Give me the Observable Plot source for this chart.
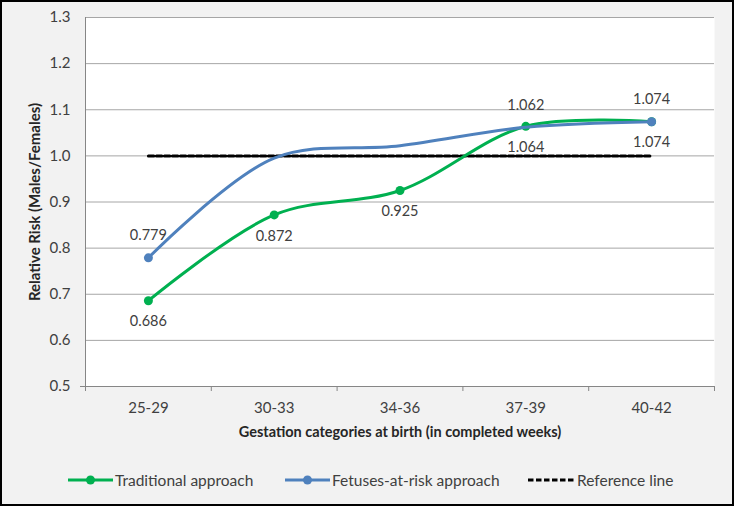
<!DOCTYPE html>
<html>
<head>
<meta charset="utf-8">
<script src="https://cdn.jsdelivr.net/npm/d3@7"></script>
<script src="https://cdn.jsdelivr.net/npm/@observablehq/plot@0.6"></script>
<style>
  html, body { margin: 0; padding: 0; background: #ffffff; }
  #wrap { position: relative; width: 735px; height: 509px; background: #ffffff; overflow: hidden;
          font-family: Lato, "Open Sans", sans-serif; }
  #bg { position: absolute; left: 0; top: 0; width: 734px; height: 506px; background: #f2f2f2; }
  #chart { position: absolute; left: 0; top: 0; }
  #border { position: absolute; left: 0; top: 0; width: 734px; height: 506px; box-sizing: border-box;
            border: 2.5px solid #000; pointer-events: none; }
  #legend { position: absolute; left: 0; top: 468px; width: 735px; height: 24px; font-size: 15.5px; color: #404040; }
  .item { position: absolute; top: 0; height: 24px; display: flex; align-items: center; }
  .item svg { display: block; margin-right: 2px; }
  #chart g[aria-label$="tick label"] { font-size: 15px; }
</style>
</head>
<body>
<div id="wrap">
  <div id="bg"></div>
  <div id="chart"></div>
  <div id="legend"></div>
  <div id="border"></div>
</div>
<script>
// ---- data ----
const categories = ["25-29", "30-33", "34-36", "37-39", "40-42"];
const traditional = [0.686, 0.872, 0.925, 1.064, 1.074];
const fetusesAtRisk = [0.779, 0.995, 1.022, 1.062, 1.074];
const referenceLine = [1, 1, 1, 1, 1];
const fetusMarkerShown = [true, false, false, false, true];
const fetusLabelShown = [true, false, false, true, true];
const yTicks = [0.5, 0.6, 0.7, 0.8, 0.9, 1.0, 1.1, 1.2, 1.3];
const seriesNames = ["Traditional approach", "Fetuses-at-risk approach", "Reference line"];
const xTitle = "Gestation categories at birth (in completed weeks)";
const yTitle = "Relative Risk (Males/Females)";

const green = "#00b050";
const blue = "#4f81bd";

const rows = (vals) => categories.map((c, i) => ({c, i, x: i + 0.5, v: vals[i]}));
const trad = rows(traditional);
const fetus = rows(fetusesAtRisk);
const ref = rows(referenceLine);

const chart = Plot.plot({
  width: 735,
  height: 450,
  marginLeft: 85,
  marginRight: 21,
  marginTop: 17,
  marginBottom: 64,
  style: {background: "transparent", fontFamily: "Lato, 'Open Sans', sans-serif", fontSize: "14.5px", color: "#404040"},
  x: {type: "linear", domain: [0, categories.length]},
  y: {type: "linear", domain: [0.5, 1.3]},
  marks: [
    Plot.frame({fill: "white", stroke: null}),
    Plot.gridY(yTicks, {stroke: "#a6a6a6", strokeOpacity: 1, strokeWidth: 1}),
    Plot.ruleX([0], {stroke: "#868686", strokeWidth: 1}),
    Plot.ruleY([0.5], {stroke: "#868686", strokeWidth: 1}),
    Plot.axisY({ticks: yTicks, tickSize: 0, tickPadding: 15, tickFormat: d3.format(".1f"),
                fontSize: 15, fill: "#404040", label: null}),
    Plot.axisY({ticks: [0.5], tickSize: 5, tickFormat: () => "", stroke: "#868686", label: null}),
    Plot.axisX({ticks: d3.range(categories.length + 1), tickSize: 5, tickFormat: () => "", stroke: "#868686", label: null}),
    Plot.axisX({ticks: categories.map((c, i) => i + 0.5), tickSize: 0, tickPadding: 16,
                tickFormat: d => categories[Math.floor(d)], fontSize: 15, fill: "#404040", label: null}),
    Plot.text([xTitle], {frameAnchor: "bottom", dy: 50, fontWeight: "bold", fontSize: 14.5, fill: "#262626"}),
    Plot.text([yTitle], {frameAnchor: "left", textAnchor: "middle", dx: -50, rotate: -90, fontWeight: "bold", fontSize: 15, fill: "#262626"}),
    Plot.line(ref, {x: "x", y: "v", stroke: "#000", strokeWidth: 3, strokeDasharray: "5.5,2.5"}),
    Plot.line(trad, {x: "x", y: "v", stroke: green, strokeWidth: 3, curve: "catmull-rom"}),
    Plot.dot(trad, {x: "x", y: "v", r: 4.5, fill: green}),
    Plot.line(fetus, {x: "x", y: "v", stroke: blue, strokeWidth: 3, curve: "catmull-rom"}),
    Plot.dot(fetus.filter(d => fetusMarkerShown[d.i]), {x: "x", y: "v", r: 4.5, fill: blue}),
    Plot.text(trad, {x: "x", y: "v", text: d => d3.format(".3f")(d.v), dy: 21, fontSize: 14.5, fill: "#404040"}),
    Plot.text(fetus.filter(d => fetusLabelShown[d.i]), {x: "x", y: "v", text: d => d3.format(".3f")(d.v), dy: -22, fontSize: 14.5, fill: "#404040"})
  ]
});
document.getElementById("chart").appendChild(chart);

// ---- legend ----
const legendSpecs = [
  {name: seriesNames[0], color: green, dash: null, marker: true, left: 68},
  {name: seriesNames[1], color: blue, dash: null, marker: true, left: 285},
  {name: seriesNames[2], color: "#000", dash: "5.5,2.5", marker: false, left: 528}
];
const legend = document.getElementById("legend");
legendSpecs.forEach(s => {
  const item = document.createElement("div");
  item.className = "item";
  item.style.left = s.left + "px";
  const w = s.marker ? 45 : 47;
  item.innerHTML =
    `<svg width="${w}" height="10"><line x1="0" x2="${w}" y1="5" y2="5" stroke="${s.color}" stroke-width="3"` +
    (s.dash ? ` stroke-dasharray="${s.dash}"` : "") + `/>` +
    (s.marker ? `<circle cx="${w / 2}" cy="5" r="4.5" fill="${s.color}"/>` : "") +
    `</svg><span>${s.name}</span>`;
  legend.appendChild(item);
});
</script>
</body>
</html>
